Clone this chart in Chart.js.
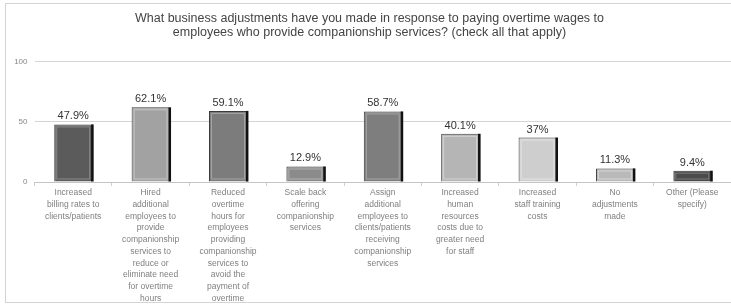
<!DOCTYPE html>
<html>
<head>
<meta charset="utf-8">
<script src="https://cdn.jsdelivr.net/npm/chart.js@4/dist/chart.umd.min.js"></script>
<style>
  html, body { margin: 0; padding: 0; background: #fff; }
  #wrap { position: relative; width: 731px; height: 306px; }
</style>
</head>
<body>
<div id="wrap"><canvas id="adjustChart"></canvas></div>
<script>
// business adjustments chart

const categories = [
    ['Increased', 'billing rates to', 'clients/patients'],
    ['Hired', 'additional', 'employees to', 'provide', 'companionship', 'services to', 'reduce or', 'eliminate need', 'for overtime', 'hours'],
    ['Reduced', 'overtime', 'hours for', 'employees', 'providing', 'companionship', 'services to', 'avoid the', 'payment of', 'overtime'],
    ['Scale back', 'offering', 'companionship', 'services'],
    ['Assign', 'additional', 'employees to', 'clients/patients', 'receiving', 'companionship', 'services'],
    ['Increased', 'human', 'resources', 'costs due to', 'greater need', 'for staff'],
    ['Increased', 'staff training', 'costs'],
    ['No', 'adjustments', 'made'],
    ['Other (Please', 'specify)']
]
const percents = [47.9, 62.1, 59.1, 12.9, 58.7, 40.1, 37, 11.3, 9.4]
const valueLabels = ['47.9%', '62.1%', '59.1%', '12.9%', '58.7%', '40.1%', '37%', '11.3%', '9.4%']
const yTicks = [0, 50, 100]

const barColors = ['#5b5b5b', '#a2a2a2', '#7c7c7c', '#8b8b8b', '#7e7e7e', '#b5b5b5', '#cecece', '#b9b9b9', '#4b4b4b']
const innerColors = ['#8a8a8a', '#c6c6c6', '#a4a4a4', '#b0b0b0', '#a6a6a6', '#d2d2d2', '#e4e4e4', '#d6d6d6', '#7a7a7a']

// frame round the whole chart
const framePlugin = {
    id: 'frame',
    beforeDraw(chart) {
        const ctx = chart.ctx
        ctx.save()
        ctx.fillStyle = '#fff'
        ctx.fillRect(0, 0, chart.width, chart.height)
        ctx.strokeStyle = '#d4d4d4'
        ctx.lineWidth = 1
        ctx.strokeRect(5.5, 3.5, chart.width, chart.height - 7)
        ctx.restore()
    }
}

// bevel look + value labels
const barDecor = {
    id: 'barDecor',
    afterDatasetsDraw(chart) {
        const ctx = chart.ctx
        const meta = chart.getDatasetMeta(0)
        ctx.save()
        meta.data.forEach((bar, i) => {
            const left = bar.x - bar.width / 2
            const right = bar.x + bar.width / 2
            const top = bar.y
            const bottom = bar.base
            ctx.strokeStyle = innerColors[i]
            ctx.lineWidth = 1
            ctx.strokeRect(left + 2.5, top + 2.5, bar.width - 5, bottom - top - 5)
            ctx.fillStyle = '#111'
            ctx.fillRect(right - 1, top, 2.5, bottom - top)

            ctx.fillStyle = '#333'
            ctx.font = '11px "Liberation Sans", Arial, sans-serif'
            ctx.textAlign = 'center'
            ctx.textBaseline = 'alphabetic'
            ctx.fillText(valueLabels[i], bar.x, top - 5)
        })
        ctx.restore()
    }
}

const ctx = document.getElementById('adjustChart')
const adjustChart = new Chart(ctx, {
    type: 'bar',
    data: {
        labels: categories,
        datasets: [{
            data: percents,
            backgroundColor: barColors,
            borderColor: '#3a3a3a',
            borderWidth: 1,
            barPercentage: 0.98,
            categoryPercentage: 0.5
        }]
    },
    options: {
        responsive: true,
        maintainAspectRatio: false,
        animation: false,
        layout: {
            padding: { left: 8, right: 0, top: 0, bottom: 0 }
        },
        plugins: {
            legend: { display: false },
            tooltip: { enabled: false },
            title: {
                display: true,
                text: ['What business adjustments have you made in response to paying overtime wages to',
                    'employees who provide companionship services? (check all that apply)'],
                color: '#444',
                font: { family: '"Liberation Sans", Arial, sans-serif', size: 12.5, weight: 'normal', lineHeight: 1.15 },
                padding: { top: 11, bottom: 22 }
            }
        },
        scales: {
            x: {
                grid: {
                    display: true,
                    drawOnChartArea: false,
                    drawTicks: true,
                    tickLength: 4,
                    color: '#d0d0d0',
                    offset: true
                },
                border: { display: true, color: '#c4c4c4' },
                ticks: {
                    color: '#808080',
                    font: { family: '"Liberation Sans", Arial, sans-serif', size: 8.5, lineHeight: 1.38 },
                    padding: 1,
                    maxRotation: 0,
                    autoSkip: false
                },
                afterFit(scale) { scale.height = 124 }
            },
            y: {
                min: 0,
                max: 100,
                afterBuildTicks(scale) { scale.ticks = yTicks.map(v => ({ value: v })) },
                grid: { color: '#d4d4d4', drawTicks: false },
                border: { display: false },
                ticks: {
                    color: '#888',
                    font: { family: '"Liberation Sans", Arial, sans-serif', size: 8 },
                    padding: 7
                },
                afterFit(scale) { scale.width = 26.5 }
            }
        }
    },
    plugins: [framePlugin, barDecor]
})
</script>
</body>
</html>
